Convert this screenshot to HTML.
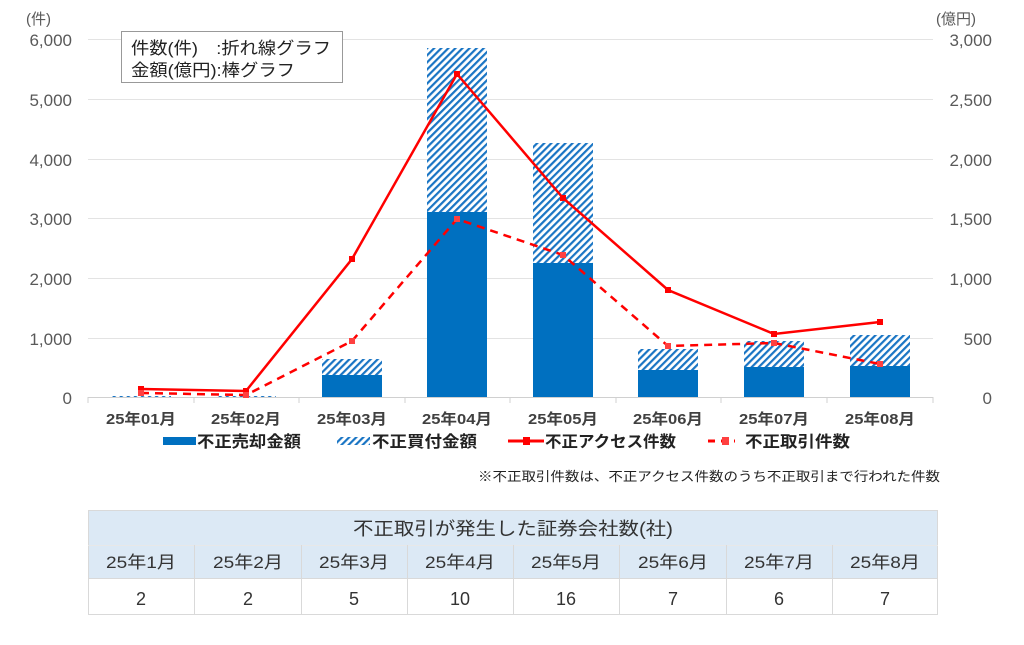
<!DOCTYPE html>
<html><head><meta charset="utf-8"><style>
body{margin:0;background:#fff;width:1024px;height:640px;overflow:hidden;font-family:"Liberation Sans","Noto Sans CJK JP",sans-serif}
</style></head><body>
<svg width="1024" height="640" xmlns="http://www.w3.org/2000/svg" font-family="Liberation Sans, Noto Sans CJK JP, sans-serif">
<defs>
<pattern id="h" patternUnits="userSpaceOnUse" width="5" height="5" patternTransform="rotate(45)">
<rect width="5" height="5" fill="#fff"/><rect width="2.2" height="5" fill="#1a75c4"/>
</pattern>
</defs>
<g stroke="#e3e3e3" stroke-width="1">
<line x1="88" x2="933" y1="39.5" y2="39.5"/><line x1="88" x2="933" y1="99.5" y2="99.5"/>
<line x1="88" x2="933" y1="159.5" y2="159.5"/><line x1="88" x2="933" y1="218.5" y2="218.5"/>
<line x1="88" x2="933" y1="278.5" y2="278.5"/><line x1="88" x2="933" y1="338.5" y2="338.5"/>
</g>
<line x1="88" x2="933" y1="397.5" y2="397.5" stroke="#d0d0d0"/>
<g stroke="#d0d0d0"><line x1="88" x2="88" y1="397" y2="403"/><line x1="194" x2="194" y1="397" y2="403"/><line x1="299" x2="299" y1="397" y2="403"/><line x1="405" x2="405" y1="397" y2="403"/><line x1="510" x2="510" y1="397" y2="403"/><line x1="616" x2="616" y1="397" y2="403"/><line x1="721" x2="721" y1="397" y2="403"/><line x1="827" x2="827" y1="397" y2="403"/><line x1="933" x2="933" y1="397" y2="403"/></g>
<g font-size="17" fill="#595959" text-anchor="end">
<text x="72" y="46">6,000</text><text x="72" y="106">5,000</text><text x="72" y="166">4,000</text><text x="72" y="225">3,000</text><text x="72" y="285">2,000</text><text x="72" y="345">1,000</text><text x="72" y="404">0</text>
</g>
<g font-size="17" fill="#595959" text-anchor="end">
<text x="992" y="46">3,000</text><text x="992" y="106">2,500</text><text x="992" y="166">2,000</text><text x="992" y="225">1,500</text><text x="992" y="285">1,000</text><text x="992" y="345">500</text><text x="992" y="404">0</text>
</g>
<text x="26" y="24" font-size="15" fill="#595959">(件)</text>
<text x="936" y="24" font-size="15" fill="#595959">(億円)</text>
<rect x="121.5" y="31.5" width="221" height="51" fill="#fff" stroke="#999"/>
<text x="131" y="54" font-size="17" fill="#222" textLength="200" lengthAdjust="spacingAndGlyphs">件数(件)　:折れ線グラフ</text>
<text x="131" y="76" font-size="17" fill="#222" textLength="164" lengthAdjust="spacingAndGlyphs">金額(億円):棒グラフ</text>
<!-- bars -->
<rect x="111" y="396" width="60" height="1" fill="url(#h)"/>
<rect x="216" y="396" width="60" height="1" fill="url(#h)"/>
<rect x="322" y="359" width="60" height="16" fill="url(#h)"/><rect x="322" y="375" width="60" height="22" fill="#0070c0"/>
<rect x="427" y="48" width="60" height="164" fill="url(#h)"/><rect x="427" y="212" width="60" height="185" fill="#0070c0"/>
<rect x="533" y="143" width="60" height="120" fill="url(#h)"/><rect x="533" y="263" width="60" height="134" fill="#0070c0"/>
<rect x="638" y="349" width="60" height="21" fill="url(#h)"/><rect x="638" y="370" width="60" height="27" fill="#0070c0"/>
<rect x="744" y="341" width="60" height="26" fill="url(#h)"/><rect x="744" y="367" width="60" height="30" fill="#0070c0"/>
<rect x="850" y="335" width="60" height="31" fill="url(#h)"/><rect x="850" y="366" width="60" height="31" fill="#0070c0"/>
<!-- lines -->
<polyline points="141,389 246,391 352,259 457,74 563,198 668,290 774,334 880,322" fill="none" stroke="#ff0000" stroke-width="2.5"/>
<g fill="#ff0000"><rect x="138" y="386" width="6" height="6"/><rect x="243" y="388" width="6" height="6"/><rect x="349" y="256" width="6" height="6"/><rect x="454" y="71" width="6" height="6"/><rect x="560" y="195" width="6" height="6"/><rect x="665" y="287" width="6" height="6"/><rect x="771" y="331" width="6" height="6"/><rect x="877" y="319" width="6" height="6"/></g>
<polyline points="141,393 246,395 352,341 457,219 563,255 668,346 774,343 880,364" fill="none" stroke="#ff0000" stroke-width="2.5" stroke-dasharray="8,6"/>
<g fill="#ff4040"><rect x="138" y="390" width="6" height="6"/><rect x="243" y="392" width="6" height="6"/><rect x="349" y="338" width="6" height="6"/><rect x="454" y="216" width="6" height="6"/><rect x="560" y="252" width="6" height="6"/><rect x="665" y="343" width="6" height="6"/><rect x="771" y="340" width="6" height="6"/><rect x="877" y="361" width="6" height="6"/></g>
<g font-size="15" fill="#404040" text-anchor="middle" font-weight="bold">
<text x="141" y="424" textLength="70" lengthAdjust="spacingAndGlyphs">25年01月</text><text x="246" y="424" textLength="70" lengthAdjust="spacingAndGlyphs">25年02月</text><text x="352" y="424" textLength="70" lengthAdjust="spacingAndGlyphs">25年03月</text><text x="457" y="424" textLength="70" lengthAdjust="spacingAndGlyphs">25年04月</text><text x="563" y="424" textLength="70" lengthAdjust="spacingAndGlyphs">25年05月</text><text x="668" y="424" textLength="70" lengthAdjust="spacingAndGlyphs">25年06月</text><text x="774" y="424" textLength="70" lengthAdjust="spacingAndGlyphs">25年07月</text><text x="880" y="424" textLength="70" lengthAdjust="spacingAndGlyphs">25年08月</text>
</g>
<!-- legend -->
<rect x="163" y="437" width="33" height="8" fill="#0070c0"/>
<text x="197" y="447" font-size="16" fill="#222" font-weight="bold" textLength="104" lengthAdjust="spacingAndGlyphs">不正売却金額</text>
<rect x="337" y="437" width="33" height="8" fill="url(#h)"/>
<text x="372" y="447" font-size="16" fill="#222" font-weight="bold" textLength="105" lengthAdjust="spacingAndGlyphs">不正買付金額</text>
<line x1="508" x2="544" y1="441" y2="441" stroke="#ff0000" stroke-width="3"/><rect x="523" y="437" width="7" height="8" fill="#ff0000"/>
<text x="545" y="447" font-size="16" fill="#222" font-weight="bold" textLength="131" lengthAdjust="spacingAndGlyphs">不正アクセス件数</text>
<line x1="708" x2="735" y1="441" y2="441" stroke="#ff0000" stroke-width="3" stroke-dasharray="7,6"/><rect x="722" y="437" width="7" height="8" fill="#ff4040"/>
<text x="745" y="447" font-size="16" fill="#222" font-weight="bold" textLength="105" lengthAdjust="spacingAndGlyphs">不正取引件数</text>
<text x="940" y="481" font-size="13" fill="#222" text-anchor="end" textLength="462" lengthAdjust="spacingAndGlyphs">※不正取引件数は、不正アクセス件数のうち不正取引まで行われた件数</text>
<!-- table -->
<rect x="88" y="510" width="850" height="68" fill="#dce9f5"/>
<rect x="88.5" y="510.5" width="849" height="104" fill="none" stroke="#d9d9d9"/>
<line x1="88" x2="938" y1="545.5" y2="545.5" stroke="#e8e8e8"/>
<line x1="88" x2="938" y1="578.5" y2="578.5" stroke="#d9d9d9"/>
<g stroke="#d9d9d9"><line x1="194.5" x2="194.5" y1="545" y2="615"/><line x1="301.5" x2="301.5" y1="545" y2="615"/><line x1="407.5" x2="407.5" y1="545" y2="615"/><line x1="513.5" x2="513.5" y1="545" y2="615"/><line x1="619.5" x2="619.5" y1="545" y2="615"/><line x1="726.5" x2="726.5" y1="545" y2="615"/><line x1="832.5" x2="832.5" y1="545" y2="615"/></g>
<text x="513" y="535" font-size="18" fill="#333" text-anchor="middle" textLength="320" lengthAdjust="spacingAndGlyphs">不正取引が発生した証券会社数(社)</text>
<g font-size="17" fill="#333" text-anchor="middle">
<text x="141" y="568" textLength="70" lengthAdjust="spacingAndGlyphs">25年1月</text><text x="248" y="568" textLength="70" lengthAdjust="spacingAndGlyphs">25年2月</text><text x="354" y="568" textLength="70" lengthAdjust="spacingAndGlyphs">25年3月</text><text x="460" y="568" textLength="70" lengthAdjust="spacingAndGlyphs">25年4月</text><text x="566" y="568" textLength="70" lengthAdjust="spacingAndGlyphs">25年5月</text><text x="673" y="568" textLength="70" lengthAdjust="spacingAndGlyphs">25年6月</text><text x="779" y="568" textLength="70" lengthAdjust="spacingAndGlyphs">25年7月</text><text x="885" y="568" textLength="70" lengthAdjust="spacingAndGlyphs">25年8月</text>
</g>
<g font-size="18" fill="#333" text-anchor="middle">
<text x="141" y="605">2</text><text x="248" y="605">2</text><text x="354" y="605">5</text><text x="460" y="605">10</text><text x="566" y="605">16</text><text x="673" y="605">7</text><text x="779" y="605">6</text><text x="885" y="605">7</text>
</g>
</svg>
</body></html>
